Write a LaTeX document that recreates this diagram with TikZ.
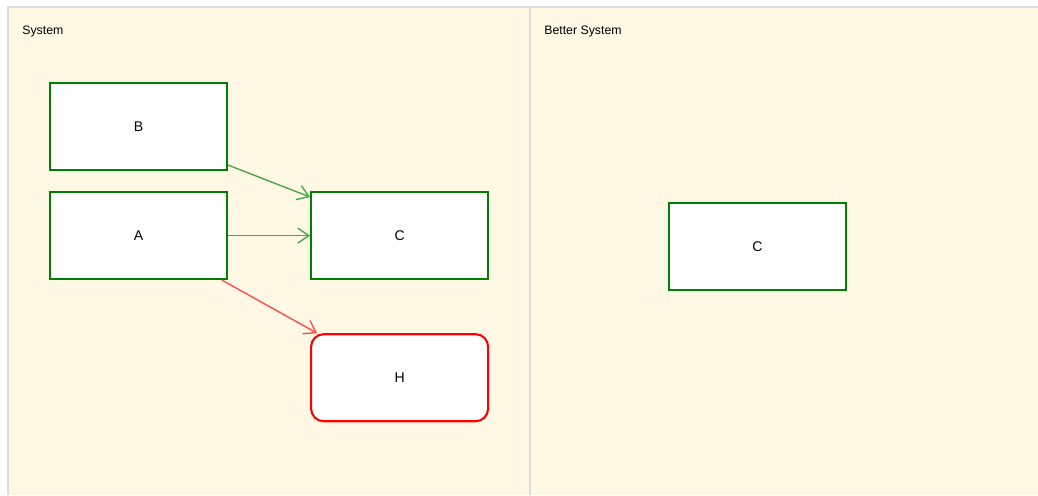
\documentclass[tikz,border=0pt]{standalone}
\usepackage{fontspec}
\setmainfont{Liberation Sans}
\usepackage{tikz}
\usetikzlibrary{arrows.meta,positioning}
\definecolor{panelbg}{HTML}{FEF8E4}
\definecolor{panelline}{HTML}{DCDCDC}
\definecolor{boxgreen}{HTML}{008000}
\definecolor{linkgreen}{HTML}{4CA64C}
\definecolor{linkred}{HTML}{FF5050}

\begin{document}
\begin{tikzpicture}[
    auto,
    node distance=0.4cm,
    font=\fontsize{8}{9}\selectfont,
    block/.style={
		rectangle,
		draw=boxgreen,
		line width=1.2pt,
		minimum width=3.54cm,
		minimum height=1.74cm,
		fill=white
	},
	alert/.style={
		block,
		draw=red,
		rounded corners=0.25cm
	},
	link/.style={
		draw=linkgreen,
		line width=0.8pt,
		-{Straight Barb[length=0.22cm,width=0.3cm]}
	},
	badlink/.style={
		link,
		draw=linkred
	},
	title/.style={
		anchor=base west,
		inner sep=0pt,
		font=\fontsize{7}{8}\selectfont
	}
  ]
    % panels first
  \useasboundingbox (0,0) rectangle (20.76,-9.9);
  \fill[white] (0,0) rectangle (20.76,-9.9);
  \fill[panelbg] (0.16,-0.14) rectangle (20.76,-9.9);
  \draw[panelline, line width=1pt] (0.16,-9.9) -- (0.16,-0.14) -- (20.76,-0.14);
  \draw[panelline, line width=1pt] (10.6,-0.14) -- (10.6,-9.9);

  \node [title] (sys) at (0.44,-0.68) {System};
  \node [title] (better) at (10.88,-0.68) {Better System};

    % blocks of the first system
  \node [block] (B) at (2.77,-2.53) {B};
  \node [block, below=of B] (A) {A};
  \node [block, right=1.64cm of A] (C) {C};
  \node [alert, below=1.06cm of C] (H) {H};

    % the better one
  \node [block] (C2) at (15.15,-4.93) {C};

 \draw [link] ([yshift=0.12cm]B.south east) -- ([yshift=-0.12cm]C.north west);
 \draw [link] (A) -- (C);
 \draw [badlink] ([xshift=-0.12cm]A.south east) -- ([xshift=0.14cm]H.north west);

\end{tikzpicture}
\end{document}
